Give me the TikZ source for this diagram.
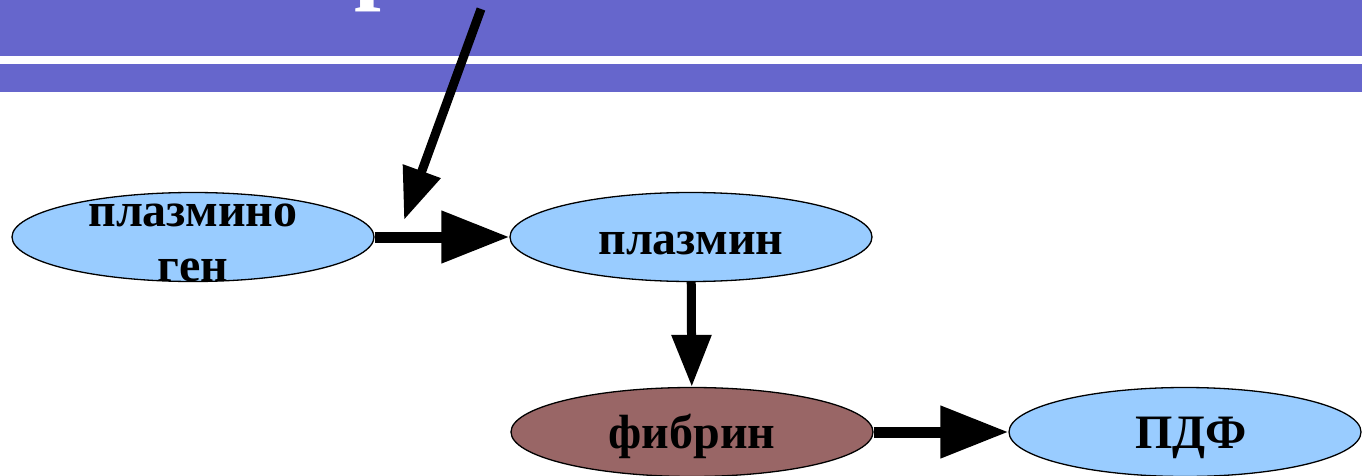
\documentclass[tikz,border=0pt]{standalone}
\usepackage{fontspec}
\setmainfont{Liberation Serif}
\usetikzlibrary{arrows.meta,shapes.geometric}
\definecolor{band}{HTML}{6666CC}
\definecolor{lightblue}{HTML}{99CCFF}
\definecolor{fibrincol}{HTML}{996666}
\tikzset{
  stage/.style={ellipse, draw=black, line width=1.3pt, inner sep=0pt,
    minimum width=362pt, minimum height=89pt},
  word/.style={font=\fontsize{48}{53}\selectfont\bfseries, inner sep=0pt, anchor=base},
  bigarrow/.style={line width=11pt, -{Triangle[length=68pt,width=50pt]}},
  midarrow/.style={line width=9pt, -{Triangle[length=52pt,width=38pt]}},
}
\begin{document}
\begin{tikzpicture}[x=1pt,y=-1pt]
  \useasboundingbox (0,0) rectangle (1362,476);
  \clip (0,0) rectangle (1362,476);
  % title bands
  \fill[band] (0,0) rectangle (1362,56);
  \fill[band] (0,64) rectangle (1362,92);
  \node[anchor=base west, inner sep=0pt, text=white,
        font=\fontsize{96}{100}\selectfont\bfseries] (title) at (354,-8) {р};
  % stages
  \node[stage, fill=lightblue] (pg) at (193,237) {};
  \node[stage, fill=lightblue] (pl) at (691,237) {};
  \node[stage, fill=fibrincol] (fb) at (692,432) {};
  \node[stage, fill=lightblue, minimum width=352pt] (pdf) at (1185,432) {};
  % stage names, set on their baselines
  \node[word] (pgA) at ([yshift=11pt]pg.center) {плазмино};
  \node[word] (pgB) at ([yshift=-44pt]pg.center) {ген};
  \node[word] (plT) at ([yshift=-17pt]pl.center) {плазмин};
  \node[word] (fbT) at ([yshift=-16pt]fb.center) {фибрин};
  \node[word] (pdfT) at ([xshift=6pt,yshift=-16pt]pdf.center) {ПДФ};
  % connectors
  \draw[bigarrow] (pg) -- (pl);
  \draw[midarrow] (pl) -- (fb);
  \draw[bigarrow] (fb) -- (pdf);
  \coordinate (act) at (481,9);
  \coordinate (acttip) at (404,220);
  \draw[midarrow] (act) -- (acttip);
\end{tikzpicture}
\end{document}
